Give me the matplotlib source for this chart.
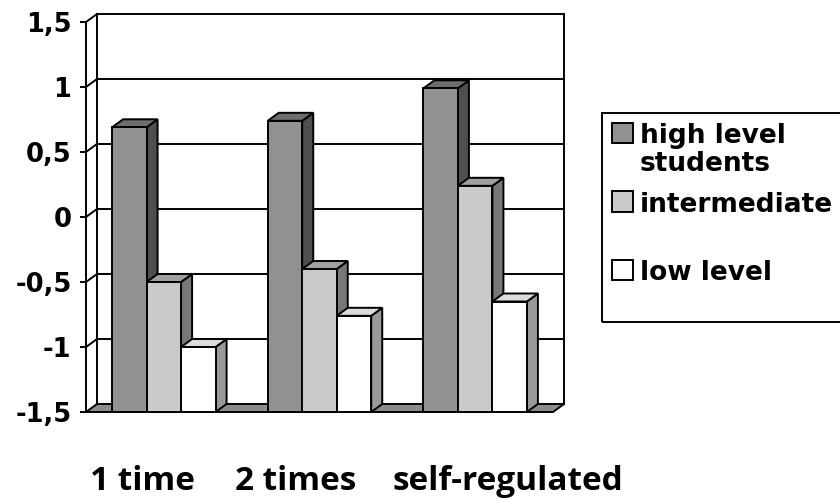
import matplotlib
matplotlib.use("Agg")
import matplotlib.pyplot as plt
from matplotlib.patches import Polygon, Rectangle
from matplotlib.ticker import FuncFormatter

# ---------------- data ----------------
categories = ["1 time", "2 times", "self-regulated"]
series_names = ["high level\nstudents", "intermediate", "low level"]
high = [0.69, 0.74, 0.99]
intermediate = [-0.50, -0.40, 0.24]
low = [-1.00, -0.76, -0.65]
yticks = [-1.5, -1, -0.5, 0, 0.5, 1, 1.5]

# ---------------- styles ----------------
front_colors = ["#919191", "#cacaca", "#ffffff"]
side_colors = ["#4f4f4f", "#787878", "#999999"]
top_colors = ["#6e6e6e", "#a0a0a0", "#dcdcdc"]
floor_color = "#8c8c8c"

W, H = 840, 499
fig = plt.figure(figsize=(W / 100, H / 100), dpi=100)
ax = fig.add_axes([86 / W, (H - 412) / H, (564 - 86) / W, (412 - 14) / H])
ax.patch.set_alpha(0)

px_per_cat = 467 / 3.0
DX = 11 / px_per_cat
DY = 8 / 130.0
base, topv = yticks[0], yticks[-1]
ncat = len(categories)
ax.set_xlim(0, ncat + DX)
ax.set_ylim(base, topv + DY)

LW = 1.4
# floor
ax.add_patch(Polygon([(0, base), (ncat, base), (ncat + DX, base + DY), (DX, base + DY)],
                     closed=True, fc=floor_color, ec="black", lw=LW, zorder=1, clip_on=False))
# back wall & left wall lines
for v in yticks[1:]:
    ax.plot([DX, ncat + DX], [v + DY, v + DY], color="black", lw=LW, zorder=0.5, clip_on=False)
    ax.plot([0, DX], [v, v + DY], color="black", lw=LW, zorder=0.5, clip_on=False)
ax.plot([DX, DX], [base + DY, topv + DY], color="black", lw=LW, zorder=0.5, clip_on=False)
ax.plot([ncat + DX, ncat + DX], [base + DY, topv + DY], color="black", lw=LW, zorder=0.5, clip_on=False)

# bars
w = 34.5 / px_per_cat
gap = (1 - 3 * w) / 2
all_series = [high, intermediate, low]
for i in range(ncat):
    for j, vals in enumerate(all_series):
        k = i * 3 + j
        z = 2 + k * 0.01
        x0 = i + gap + j * w
        x1 = x0 + w
        v = vals[i]
        bars = ax.bar([x0], [v - base], width=w, bottom=base, align="edge",
                      color=front_colors[j], edgecolor="black", linewidth=LW)
        bars[0].set_zorder(z + 0.002)
        bars[0].set_clip_on(False)
        ax.add_patch(Polygon([(x1, base), (x1 + DX, base + DY), (x1 + DX, v + DY), (x1, v)],
                             closed=True, fc=side_colors[j], ec="black", lw=LW,
                             zorder=z, clip_on=False))
        ax.add_patch(Polygon([(x0, v), (x1, v), (x1 + DX, v + DY), (x0 + DX, v + DY)],
                             closed=True, fc=top_colors[j], ec="black", lw=LW,
                             zorder=z + 0.001, clip_on=False))

# axes / ticks
for s in ["top", "right", "bottom"]:
    ax.spines[s].set_visible(False)
ax.spines["left"].set_bounds(base, topv)
ax.spines["left"].set_linewidth(LW)
ax.spines["left"].set_zorder(3)
ax.set_xticks([])
ax.set_yticks(yticks)
ax.yaxis.set_major_formatter(FuncFormatter(lambda v, p: f"{v:g}".replace(".", ",")))
ax.tick_params(axis="y", direction="out", length=4.5, width=LW, pad=6)
for lbl in ax.get_yticklabels():
    lbl.set_fontfamily("DejaVu Sans")
    lbl.set_fontweight("bold")
    lbl.set_fontsize(18.5)

# category labels
cat_x = [90, 235, 393]
for cx, cat in zip(cat_x, categories):
    fig.text(cx / W, (H - 490) / H, cat, fontfamily="Open Sans", fontweight="bold",
             fontsize=24, ha="left", va="baseline")

# legend (manual)
fig.patches.append(Rectangle((602 / W, (H - 322) / H), (850 - 602) / W, (322 - 113) / H,
                             transform=fig.transFigure, fill=False, ec="black", lw=LW))
leg_baselines = [143, 211.5, 280]
for j, (name, yb) in enumerate(zip(series_names, leg_baselines)):
    fig.patches.append(Rectangle((612 / W, (H - yb) / H), 21 / W, 20 / H,
                                 transform=fig.transFigure, fc=front_colors[j],
                                 ec="black", lw=LW))
    lines = name.split("\n")
    for li, line in enumerate(lines):
        fig.text(640 / W, (H - yb - li * 28) / H, line, fontfamily="DejaVu Sans",
                 fontweight="bold", fontsize=19, ha="left", va="baseline")

fig.savefig("out.png", dpi=100)
